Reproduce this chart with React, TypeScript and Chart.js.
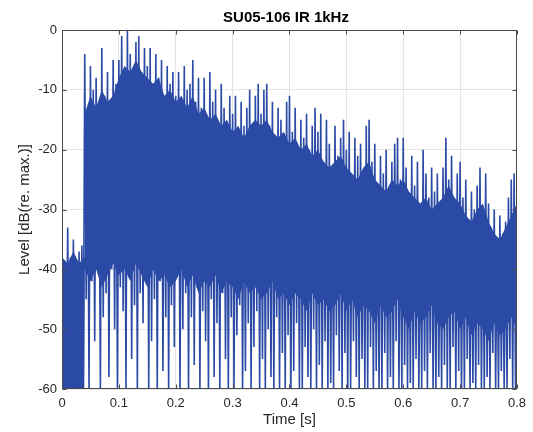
import React, { useEffect, useRef } from "react";
import { Chart, registerables } from "chart.js";

Chart.register(...registerables);

const TITLE = "SU05-106 IR 1kHz";
const X_LABEL = "Time [s]";
const Y_LABEL = "Level [dB(re. max.)]";
const X_TICKS = [0, 0.1, 0.2, 0.3, 0.4, 0.5, 0.6, 0.7, 0.8];
const Y_TICKS = [0, -10, -20, -30, -40, -50, -60];

// sample spacing of the peak readings (s); troughs sit half-way between peaks
const SAMPLE_STEP = 0.005;

// upper spike levels (dB), one every 5 ms from 0 to 0.8 s
const peakLevels = [
  -36, -39, -33, -38, -35, -40, -37, -36,
  -4, -14, -6, -10, -8, -17, -3, -11, -7, -13, -5, -9,
  -5, -1, -9, 0, -4, -11, -2, -1, -7, -3,
  -6, -3, -12, -4, -8, -5, -13, -6, -9, -7,
  -11, -7, -14, -6, -10, -9, -5, -12, -8, -13,
  -8, -15, -7, -12, -10, -16, -9, -13, -17, -11,
  -14, -11, -18, -12, -16, -13, -10, -17, -11, -9,
  -14, -10, -9, -16, -12, -19, -13, -15, -20, -12,
  -11, -17, -13, -21, -15, -18, -14, -20, -16, -13,
  -17, -14, -22, -15, -19, -23, -16, -21, -18, -15,
  -20, -17, -25, -18, -21, -19, -26, -16, -15, -22,
  -19, -27, -21, -24, -20, -28, -22, -19, -18, -25,
  -18, -23, -29, -21, -26, -22, -30, -20, -24, -28,
  -23, -27, -24, -31, -23, -18, -25, -21, -29, -24,
  -22, -28, -25, -32, -27, -30, -26, -23, -31, -24,
  -29, -33, -30, -35, -31, -34, -32, -28, -25, -24,
  -24,
];

// lower spike levels (dB), between consecutive peaks
const troughLevels = [
  -60, -60, -60, -60, -60, -60, -60, -60, -45, -60,
  -42, -52, -38, -60, -48, -44, -58, -40, -50, -60,
  -43, -47, -60, -41, -55, -46, -60, -44, -49, -39,
  -60, -52, -45, -60, -42, -57, -48, -60, -46, -53,
  -41, -60, -50, -44, -60, -48, -56, -43, -60, -47,
  -52, -60, -45, -58, -49, -60, -44, -55, -60, -48,
  -60, -51, -46, -60, -57, -49, -60, -53, -47, -60,
  -55, -60, -50, -58, -60, -48, -60, -54, -60, -51,
  -60, -57, -49, -60, -60, -53, -58, -60, -50, -60,
  -56, -60, -52, -60, -59, -60, -51, -57, -60, -54,
  -60, -60, -52, -58, -60, -55, -60, -60, -53, -60,
  -57, -60, -60, -54, -60, -58, -60, -52, -60, -60,
  -56, -60, -59, -60, -55, -60, -60, -57, -60, -54,
  -60, -60, -58, -60, -56, -60, -60, -53, -60, -57,
  -60, -60, -55, -60, -59, -60, -56, -60, -60, -58,
  -60, -54, -60, -60, -57, -60, -60, -55, -60, -60,
];

// dense (solid) part of the signal
const coreTimes = [
  0, 0.01, 0.02, 0.03, 0.039,
  0.04, 0.05, 0.06, 0.07, 0.08, 0.09,
  0.1, 0.11, 0.12, 0.13, 0.14, 0.15, 0.16, 0.17, 0.18, 0.19,
  0.2, 0.21, 0.22, 0.23, 0.24, 0.25, 0.26, 0.27, 0.28, 0.29,
  0.3, 0.31, 0.32, 0.33, 0.34, 0.35, 0.36, 0.37, 0.38, 0.39,
  0.4, 0.41, 0.42, 0.43, 0.44, 0.45, 0.46, 0.47, 0.48, 0.49,
  0.5, 0.51, 0.52, 0.53, 0.54, 0.55, 0.56, 0.57, 0.58, 0.59,
  0.6, 0.61, 0.62, 0.63, 0.64, 0.65, 0.66, 0.67, 0.68, 0.69,
  0.7, 0.71, 0.72, 0.73, 0.74, 0.75, 0.76, 0.77, 0.78, 0.79,
  0.8,
];
const coreTop = [
  -38, -39, -37, -39, -38,
  -14, -11, -13, -10, -12, -11,
  -8, -6, -7, -5, -7, -8, -9, -8, -11, -10,
  -12, -11, -13, -11, -14, -13, -15, -14, -16, -15,
  -17, -16, -18, -16, -15, -16, -15, -17, -18, -17,
  -19, -18, -20, -19, -21, -20, -22, -23, -22, -21,
  -23, -24, -25, -23, -22, -25, -26, -27, -25, -26,
  -25, -27, -28, -29, -28, -30, -29, -28, -26, -28,
  -29, -31, -32, -30, -29, -32, -34, -35, -33, -31,
  -29,
];
const coreBottom = [
  -60, -60, -60, -60, -60,
  -40, -42, -40, -43, -41, -39,
  -41, -40, -42, -39, -41, -43, -40, -42, -41, -43,
  -42, -40, -43, -41, -44, -42, -43, -41, -44, -42,
  -43, -45, -42, -44, -43, -45, -44, -42, -45, -44,
  -46, -44, -45, -47, -44, -46, -45, -47, -46, -44,
  -47, -45, -48, -46, -47, -49, -46, -48, -47, -45,
  -48, -50, -47, -49, -48, -46, -49, -50, -48, -47,
  -50, -48, -51, -49, -50, -52, -49, -51, -50, -48,
  -50,
];

const BLUE = "#2b4aa6";
const FONT = '"Liberation Sans", Arial, Helvetica, sans-serif';

const framePlugin = {
  id: "matlabFrame",
  afterDraw(chart: any) {
    const { ctx, chartArea: a, scales } = chart;
    const l = Math.round(a.left) + 0.5;
    const r = Math.round(a.right) - 0.5;
    const t = Math.round(a.top) + 0.5;
    const b = Math.round(a.bottom) - 0.5;
    ctx.save();
    ctx.strokeStyle = "#4a4a4a";
    ctx.lineWidth = 1;
    ctx.strokeRect(l, t, r - l, b - t);
    ctx.beginPath();
    X_TICKS.forEach((v) => {
      const px = Math.round(scales.x.getPixelForValue(v)) + 0.5;
      ctx.moveTo(px, b);
      ctx.lineTo(px, b - 4);
      ctx.moveTo(px, t);
      ctx.lineTo(px, t + 4);
    });
    Y_TICKS.forEach((v) => {
      const py = Math.round(scales.y.getPixelForValue(v)) + 0.5;
      ctx.moveTo(l, py);
      ctx.lineTo(l + 4, py);
      ctx.moveTo(r, py);
      ctx.lineTo(r - 4, py);
    });
    ctx.stroke();
    ctx.fillStyle = "#000";
    ctx.font = `bold 15px ${FONT}`;
    ctx.textAlign = "center";
    ctx.textBaseline = "middle";
    ctx.fillText(TITLE, 286, 18);
    ctx.restore();
  },
};

export default function App() {
  const ref = useRef<HTMLCanvasElement | null>(null);

  useEffect(() => {
    if (!ref.current) return;
    const spikes: { x: number; y: number }[] = [];
    peakLevels.forEach((p, i) => {
      spikes.push({ x: i * SAMPLE_STEP, y: p });
      if (i < troughLevels.length) spikes.push({ x: (i + 0.5) * SAMPLE_STEP, y: troughLevels[i] });
    });
    const top = coreTimes.map((t, i) => ({ x: t, y: coreTop[i] }));
    const bottom = coreTimes.map((t, i) => ({ x: t, y: coreBottom[i] }));

    const chart = new Chart(ref.current, {
      type: "line",
      data: {
        datasets: [
          {
            data: top,
            borderWidth: 0,
            borderColor: BLUE,
            backgroundColor: BLUE,
            pointRadius: 0,
            fill: "+1",
            tension: 0,
          },
          {
            data: bottom,
            borderWidth: 0,
            borderColor: BLUE,
            pointRadius: 0,
            fill: false,
            tension: 0,
          },
          {
            data: spikes,
            borderWidth: 1.6,
            borderColor: BLUE,
            borderJoinStyle: "bevel",
            pointRadius: 0,
            fill: false,
            tension: 0,
          },
        ],
      },
      options: {
        animation: false,
        responsive: false,
        events: [],
        layout: { padding: { top: 30, right: 13, bottom: 0, left: 0 } },
        plugins: {
          legend: { display: false },
          title: { display: false },
          tooltip: { enabled: false },
        },
        scales: {
          x: {
            type: "linear",
            min: 0,
            max: 0.8,
            afterBuildTicks: (s: any) => {
              s.ticks = X_TICKS.map((v) => ({ value: v }));
            },
            afterFit: (s: any) => {
              s.height = 43;
            },
            ticks: {
              padding: 7,
              color: "#262626",
              font: { family: FONT, size: 13 },
              maxRotation: 0,
              callback: (v: any) => String(Number(Number(v).toFixed(1))),
            },
            grid: { color: "#e4e4e4", drawTicks: false },
            border: { display: false },
            title: {
              display: true,
              text: X_LABEL,
              color: "#262626",
              font: { family: FONT, size: 15 },
              padding: { top: 0, bottom: 3 },
            },
          },
          y: {
            type: "linear",
            min: -60,
            max: 0,
            afterBuildTicks: (s: any) => {
              s.ticks = Y_TICKS.map((v) => ({ value: v }));
            },
            afterFit: (s: any) => {
              s.width = 62;
            },
            ticks: {
              padding: 5,
              color: "#262626",
              font: { family: FONT, size: 13 },
              callback: (v: any) => String(v),
            },
            grid: { color: "#e4e4e4", drawTicks: false },
            border: { display: false },
            title: {
              display: true,
              text: Y_LABEL,
              color: "#262626",
              font: { family: FONT, size: 15 },
              padding: { top: 16, bottom: 0 },
            },
          },
        },
      },
      plugins: [framePlugin],
    });
    return () => chart.destroy();
  }, []);

  return (
    <div style={{ position: "fixed", left: 0, top: 0, width: 533, height: 432, background: "#fff" }}>
      <canvas ref={ref} width={533} height={432} />
    </div>
  );
}
